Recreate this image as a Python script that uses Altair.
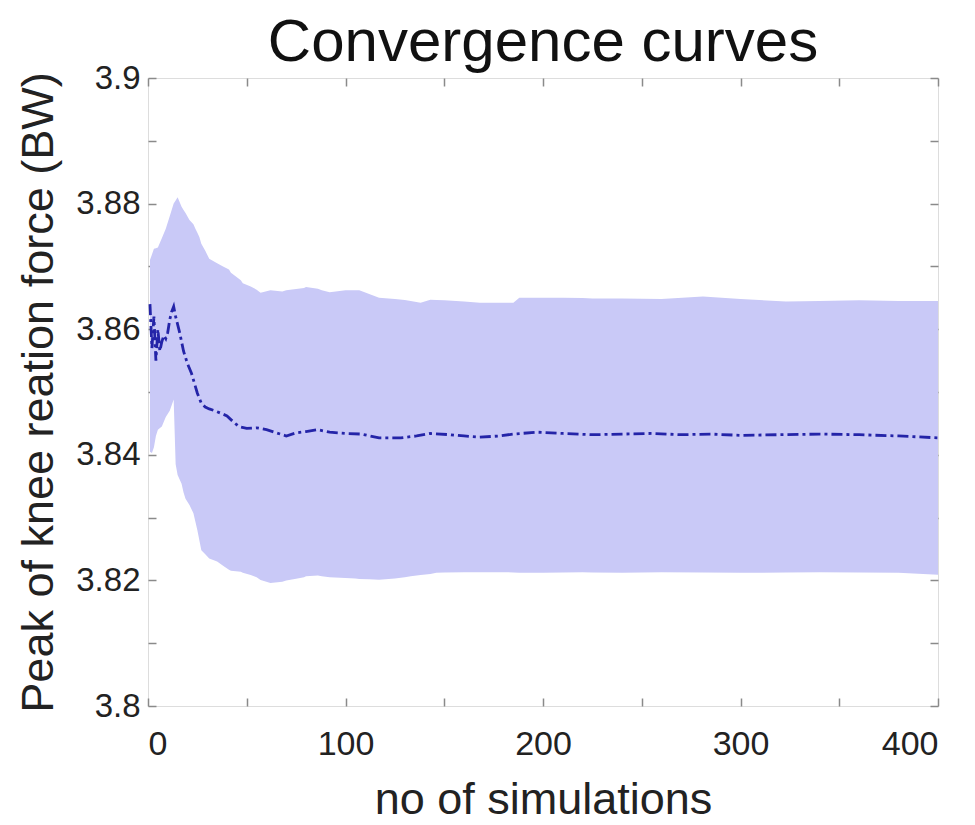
import altair as alt
import pandas as pd

# ---- data ----
mean_n = [1, 2, 3, 4, 5, 6, 7, 8, 9, 10, 11, 12, 13, 14, 16, 18, 20, 22, 25, 27, 29, 31, 34, 37, 40, 43, 46, 50,
          55, 60, 65, 70, 75, 80, 86, 92, 100, 108, 117, 128, 136, 143, 153, 160, 168, 178, 185, 197, 210, 225, 240,
          255, 270, 285, 300, 320, 340, 360, 380, 400]
mean_v = [3.8640, 3.8570, 3.8620, 3.8550, 3.8600, 3.8565, 3.8580, 3.8590, 3.8585, 3.8595, 3.8615, 3.8628, 3.8636,
          3.8620, 3.8595, 3.8565, 3.8545, 3.8530, 3.8498, 3.8482, 3.8476, 3.8473, 3.8470, 3.8466, 3.8462,
          3.8453, 3.8445, 3.8442, 3.8443, 3.8440, 3.8435, 3.8430, 3.8435, 3.8437, 3.8440, 3.8436, 3.8434, 3.8433,
          3.8427, 3.8427, 3.8430, 3.8434, 3.8432, 3.8430, 3.8428, 3.8430, 3.8433, 3.8436, 3.8434, 3.8432, 3.8433,
          3.8434, 3.8432, 3.8433, 3.8431, 3.8432, 3.8433, 3.8432, 3.8430, 3.8427]

upper_n = [1, 3, 5, 7, 9, 11, 13, 15, 17, 19, 21, 24, 26, 29, 31, 35, 38, 42, 47, 52, 57, 62, 68, 75, 80, 88, 92, 100,
           107, 112, 117, 125, 133, 138, 143, 150, 160, 168, 178, 185, 188, 200, 210, 225, 240, 260, 281, 300, 323,
           340, 360, 380, 400]
upper_v = [3.8710, 3.8728, 3.8730, 3.8745, 3.8760, 3.8780, 3.8800, 3.8810, 3.8795, 3.8785, 3.8774, 3.8760, 3.8747,
           3.8725, 3.8712, 3.8705, 3.8700, 3.8690, 3.8678, 3.8668, 3.8658, 3.8662, 3.8660, 3.8664, 3.8667, 3.8662,
           3.8659, 3.8662, 3.8662, 3.8656, 3.8650, 3.8648, 3.8645, 3.8642, 3.8647, 3.8646, 3.8644, 3.8642, 3.8642,
           3.8642, 3.8650, 3.8650, 3.8650, 3.8649, 3.8649, 3.8648, 3.8652, 3.8648, 3.8644, 3.8645, 3.8646, 3.8645,
           3.8645]

lower_n = [1, 2, 3, 4, 5, 7, 9, 11, 13, 14, 15, 18, 21, 23, 25, 27, 31, 35, 41, 48, 55, 62, 70, 79, 86, 92, 105, 117,
           130, 146, 160, 180, 200, 220, 240, 260, 300, 340, 380, 400]
lower_v = [3.8405, 3.8403, 3.8412, 3.8430, 3.8440, 3.8445, 3.8460, 3.8470, 3.8488, 3.8385, 3.8368, 3.8340, 3.8320,
           3.8307, 3.8280, 3.8248, 3.8235, 3.8230, 3.8217, 3.8212, 3.8205, 3.8196, 3.8200, 3.8205, 3.8208, 3.8205,
           3.8203, 3.8201, 3.8205, 3.8212, 3.8213, 3.8213, 3.8212, 3.8213, 3.8212, 3.8213, 3.8212, 3.8213, 3.8212,
           3.8209]

x_label_vals = [0, 100, 200, 300, 400]
x_tick_vals = [0, 50, 100, 150, 200, 250, 300, 350, 400]
y_label_vals = [3.8, 3.82, 3.84, 3.86, 3.88, 3.9]
y_tick_vals = [3.8, 3.81, 3.82, 3.83, 3.84, 3.85, 3.86, 3.87, 3.88, 3.89, 3.9]

# band table built from the read points (union of n, each series merged)
band_upper = pd.DataFrame({"n": upper_n, "upper": upper_v})
band_lower = pd.DataFrame({"n": lower_n, "lower": lower_v})
band = pd.merge(band_upper, band_lower, on="n", how="outer").sort_values("n")
band["upper"] = band["upper"].interpolate()
band["lower"] = band["lower"].interpolate()
mean_df = pd.DataFrame({"n": mean_n, "mean": mean_v})

FONT = "Liberation Sans"
GRAY = "#8a8a8a"
BAND = "#c9c9f7"
LINE = "#2424a8"

xscale = alt.Scale(domain=[0, 400], nice=False, zero=False)
yscale = alt.Scale(domain=[3.8, 3.9], nice=False, zero=False)

area = alt.Chart(band).mark_area(color=BAND, opacity=1).encode(
    x=alt.X("n:Q", scale=xscale,
            axis=alt.Axis(orient="bottom", values=x_label_vals, ticks=False, domain=False, grid=False,
                          labelFontSize=34, labelFont=FONT, labelColor="#222222", labelPadding=21,
                          title="no of simulations", titleFont=FONT, titleFontSize=45,
                          titleFontWeight="normal", titleColor="#222222", titlePadding=16)),
    y=alt.Y("lower:Q", scale=yscale,
            axis=alt.Axis(orient="left", values=y_label_vals, ticks=False, domain=False, grid=False,
                          format="~g", labelFontSize=33, labelFont=FONT, labelColor="#222222",
                          labelPadding=8, title="Peak of knee reation force (BW)", titleFont=FONT,
                          titleFontSize=45, titleFontWeight="normal", titleColor="#222222",
                          titlePadding=14)),
    y2="upper:Q",
)

line = alt.Chart(mean_df).mark_line(color=LINE, strokeWidth=2.8, strokeDash=[11, 4, 3, 4]).encode(
    x=alt.X("n:Q", scale=xscale,
            axis=alt.Axis(orient="bottom", values=x_tick_vals, labels=False, domain=False, grid=False,
                          ticks=True, tickSize=8, tickColor=GRAY, tickWidth=1.5, offset=-8, title=None)),
    y=alt.Y("mean:Q", scale=yscale,
            axis=alt.Axis(orient="left", values=y_tick_vals, labels=False, domain=False, grid=False,
                          ticks=True, tickSize=8, tickColor=GRAY, tickWidth=1.5, offset=-8, title=None)),
)

ghost = alt.Chart(mean_df).mark_point(opacity=0, size=1).encode(
    x=alt.X("n:Q", scale=xscale,
            axis=alt.Axis(orient="top", values=x_tick_vals, labels=False, domain=False, grid=False,
                          ticks=True, tickSize=8, tickColor=GRAY, tickWidth=1.5, offset=-8, title=None)),
    y=alt.Y("mean:Q", scale=yscale,
            axis=alt.Axis(orient="right", values=y_tick_vals, labels=False, domain=False, grid=False,
                          ticks=True, tickSize=8, tickColor=GRAY, tickWidth=1.5, offset=-8, title=None)),
)

chart = (
    alt.layer(area, line, ghost)
    .resolve_axis(x="independent", y="independent")
    .properties(
        width=790,
        height=628,
        autosize=alt.AutoSizeParams(type="none"),
        padding={"left": 140, "top": 70, "right": 29, "bottom": 117},
        title=alt.TitleParams("Convergence curves", font=FONT, fontSize=60, fontWeight="normal",
                              color="#111111", anchor="middle", offset=-12),
    )
    .configure_view(stroke=GRAY, strokeWidth=1.5)
    .configure(background="white")
)

chart.save("out.html", embed_options={"renderer": "svg", "actions": False})
